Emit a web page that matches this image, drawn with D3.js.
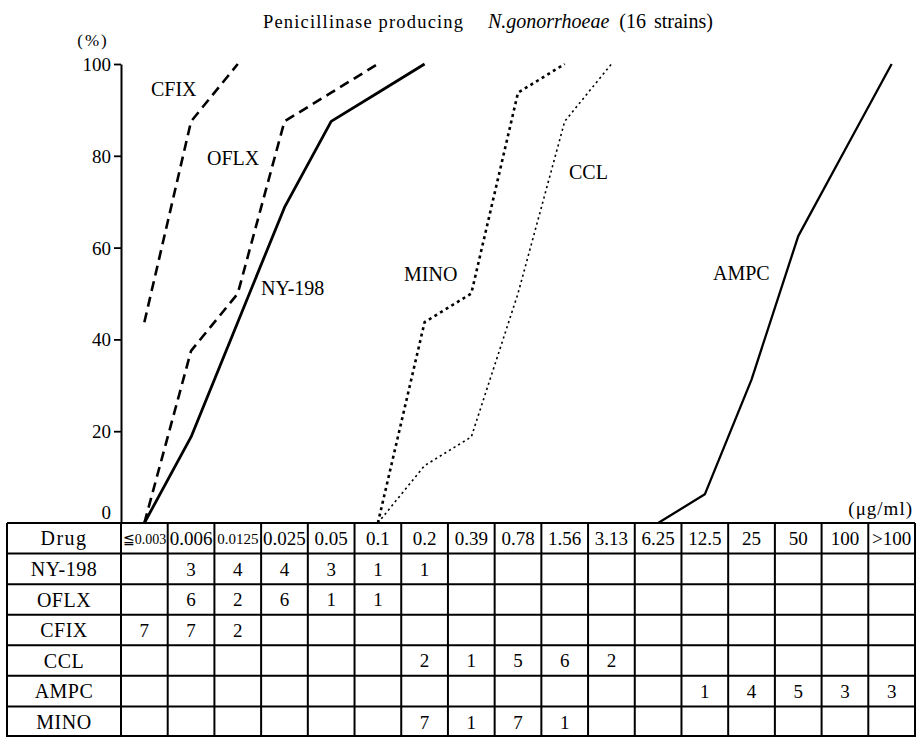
<!DOCTYPE html>
<html><head><meta charset="utf-8">
<script src="https://cdn.jsdelivr.net/npm/d3@7"></script>
<style>body{margin:0;background:#fff}</style>
</head><body>
<svg id="c" width="916" height="737"></svg>
<script>
// ---------------- data ----------------
const concentrations = ["≦0.003","0.006","0.0125","0.025","0.05","0.1","0.2","0.39","0.78","1.56","3.13","6.25","12.5","25","50","100",">100"];
const drugs = ["NY-198","OFLX","CFIX","CCL","AMPC","MINO"];
const countsNY198 = [null,3,4,4,3,1,1,null,null,null,null,null,null,null,null,null,null];
const countsOFLX  = [null,6,2,6,1,1,null,null,null,null,null,null,null,null,null,null,null];
const countsCFIX  = [7,7,2,null,null,null,null,null,null,null,null,null,null,null,null,null,null];
const countsCCL   = [null,null,null,null,null,null,2,1,5,6,2,null,null,null,null,null,null];
const countsAMPC  = [null,null,null,null,null,null,null,null,null,null,null,null,1,4,5,3,3];
const countsMINO  = [null,null,null,null,null,null,7,1,7,1,null,null,null,null,null,null,null];
const totalStrains = 16;
const yTicks = [0,20,40,60,80,100];

const countsByDrug = {"NY-198":countsNY198,"OFLX":countsOFLX,"CFIX":countsCFIX,"CCL":countsCCL,"AMPC":countsAMPC,"MINO":countsMINO};

// ---------------- styles ----------------
const FONT = "Liberation Serif, DejaVu Serif, serif";
const lineStyle = {
  "NY-198":{w:2.8,dash:null},
  "OFLX":{w:2.6,dash:"10,6"},
  "CFIX":{w:2.6,dash:"10,6"},
  "CCL":{w:1.6,dash:"2.2,3.2"},
  "AMPC":{w:2.3,dash:null},
  "MINO":{w:2.6,dash:"3,3.6"}
};

const svg = d3.select("#c");
const x = d3.scaleBand().domain(concentrations).range([121, 915]);
const y = d3.scaleLinear().domain([0,100]).range([523, 64]);
const rows = ["Drug", ...drugs];
const r = d3.scaleBand().domain(rows).range([523, 737]);

// title
const title = svg.append("g").attr("font-family",FONT);
title.append("text").attr("x",263).attr("y",28).attr("font-size",18.5).attr("textLength",200).attr("lengthAdjust","spacing").text("Penicillinase producing");
const t2 = title.append("text").attr("x",488).attr("y",28).attr("font-size",20).attr("font-style","italic").text("N.gonorrhoeae");
const t2w = t2.node().getComputedTextLength();
title.append("text").attr("x",488+t2w+10).attr("y",28).attr("font-size",20).attr("word-spacing",3).text("(16 strains)");

// y axis
const axis = d3.axisLeft(y).tickValues(yTicks).tickSize(7).tickSizeOuter(0).tickPadding(3);
const ag = svg.append("g").attr("transform","translate(121,0)").call(axis);
ag.select(".domain").attr("stroke","#000").attr("stroke-width",2);
ag.selectAll(".tick line").attr("stroke","#000").attr("stroke-width",1.8);
ag.selectAll(".tick text").attr("font-family",FONT).attr("font-size",19).attr("fill","#000")
  .attr("dy", d => d===0 ? "-0.25em" : "0.34em");
svg.append("text").attr("x",93).attr("y",46).attr("text-anchor","middle")
  .attr("font-family",FONT).attr("font-size",17).attr("letter-spacing",2).text("(%)");

// curves
function cumulative(counts){
  const first = counts.findIndex(v=>v!=null);
  let last = counts.length-1; while(counts[last]==null) last--;
  const pts=[]; let acc=0;
  if(first>0) pts.push({c:concentrations[first-1], v:0});
  for(let i=first;i<=last;i++){ acc += counts[i]||0; pts.push({c:concentrations[i], v:acc/totalStrains*100}); }
  return pts;
}
const line = d3.line().x(d=>x(d.c)+x.bandwidth()/2).y(d=>y(d.v));
drugs.forEach(dr=>{
  const s=lineStyle[dr];
  svg.append("path").datum(cumulative(countsByDrug[dr]))
    .attr("d",line).attr("fill","none").attr("stroke","#000")
    .attr("stroke-width",s.w).attr("stroke-dasharray",s.dash)
    .attr("stroke-linejoin","round");
});

// curve labels
const labels = [
  {t:"CFIX",x:151,y:96},{t:"OFLX",x:207,y:165},{t:"NY-198",x:261,y:295},
  {t:"MINO",x:404,y:281},{t:"CCL",x:569,y:179},{t:"AMPC",x:713,y:280}
];
svg.append("g").selectAll("text").data(labels).join("text")
  .attr("x",d=>d.x).attr("y",d=>d.y).attr("font-family",FONT).attr("font-size",20).text(d=>d.t);

// unit
svg.append("text").attr("x",913).attr("y",515).attr("text-anchor","end")
  .attr("font-family",FONT).attr("font-size",19).attr("letter-spacing",1).text("(μg/ml)");

// table
const tg = svg.append("g");
const tLeft=7, tRight=915, tTop=523, tBottom=737;
tg.append("rect").attr("x",0).attr("y",tTop).attr("width",916).attr("height",tBottom-tTop).attr("fill","#fff");
const hY = rows.map(d=>r(d)).concat([tBottom-1]);
tg.selectAll("line.h").data(hY).join("line").attr("class","h")
  .attr("x1",tLeft).attr("x2",tRight).attr("y1",d=>d).attr("y2",d=>d)
  .attr("stroke","#000").attr("stroke-width",2);
const vX = [tLeft, 121, ...concentrations.slice(1).map(c=>x(c)), tRight];
tg.selectAll("line.v").data(vX).join("line").attr("class","v")
  .attr("x1",d=>d).attr("x2",d=>d).attr("y1",tTop).attr("y2",tBottom)
  .attr("stroke","#000").attr("stroke-width",2);

tg.selectAll("text.rl").data(rows).join("text").attr("class","rl")
  .attr("x",64).attr("y",d=>r(d)+r.bandwidth()/2).attr("dy","0.36em")
  .attr("text-anchor","middle").attr("font-family",FONT).attr("font-size",20)
  .attr("letter-spacing",d=>d==="Drug"?1.5:0.5).text(d=>d);
tg.selectAll("text.hd").data(concentrations).join("text").attr("class","hd")
  .attr("x",d=>x(d)+x.bandwidth()/2).attr("y",r("Drug")+r.bandwidth()/2).attr("dy","0.36em")
  .attr("text-anchor","middle").attr("font-family",FONT)
  .attr("font-size",d=> (d==="≦0.003"||d==="0.0125") ? 15 : 19).text(d=>d)
  .each(function(){ const w=this.getComputedTextLength(); const maxW=x.bandwidth()-3;
    if(w>maxW){ d3.select(this).attr("textLength",maxW).attr("lengthAdjust","spacingAndGlyphs"); } });
drugs.forEach(dr=>{
  countsByDrug[dr].forEach((v,i)=>{
    if(v==null) return;
    tg.append("text").attr("x",x(concentrations[i])+x.bandwidth()/2).attr("y",r(dr)+r.bandwidth()/2)
      .attr("dy","0.36em").attr("text-anchor","middle").attr("font-family",FONT).attr("font-size",19).text(v);
  });
});
</script>
</body></html>
